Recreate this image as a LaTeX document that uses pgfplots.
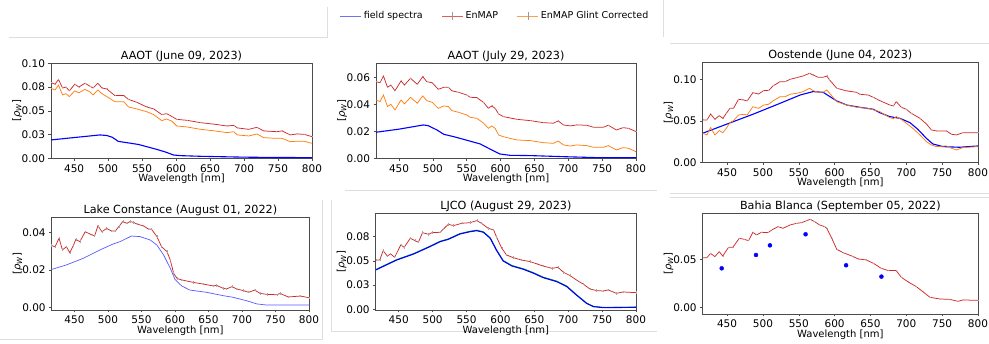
\documentclass[border=0pt]{standalone}
\usepackage{fontspec}
\setmainfont{DejaVu Sans}
\usepackage{pgfplots}
\pgfplotsset{compat=1.18}

\definecolor{enred}{RGB}{214,39,40}
\definecolor{enorange}{RGB}{255,127,14}
\definecolor{fieldblue}{RGB}{0,0,255}
\definecolor{legblue}{RGB}{110,110,255}
\definecolor{fieldgreen}{RGB}{40,170,40}
\definecolor{sepgray}{RGB}{222,222,222}

\pgfplotsset{
  spec/.style={
    scale only axis,
    xmin=416, xmax=800,
    xtick={450,500,...,800},
    scaled y ticks=false,
    tick align=outside,
    major tick length=2.5pt,
    xtick pos=bottom, ytick pos=left,
    axis line style={black!70, line width=0.5pt},
    every tick/.style={black!70, line width=0.5pt},
    tick label style={font=\fontsize{10.5}{12}\selectfont},
    /pgf/number format/assume math mode=true,
    xlabel={Wavelength [nm]},
    ylabel={[\textit{ρ}\textsubscript{\textit{W}}]},
    label style={font=\fontsize{10.5}{12}\selectfont},
    every axis x label/.style={at={(axis description cs:0.5,0)}, anchor=base, yshift=-23.5pt},
    every axis y label/.style={at={(axis description cs:0,0.5)}, xshift=-34pt, rotate=90, anchor=center},
    every axis title/.style={at={(axis description cs:0.5,1)}, anchor=base, yshift=4pt, font=\fontsize{11.2}{13}\selectfont},
  },
  enmap/.style={enred, line width=0.75pt, mark=|, mark size=#1, mark options={gray!70, line width=0.4pt, solid}},
  glint/.style={enorange, line width=0.75pt},
  field/.style={fieldblue, line width=1.1pt},
}

\begin{document}
\begin{tikzpicture}
\useasboundingbox (0pt,0pt) rectangle (989pt,344pt);

% light frames around the panels
\begin{scope}[sepgray, line width=0.8pt]
  \draw (9pt,307pt) -- (327pt,307pt) -- (327pt,337pt);
  \draw (663.5pt,344pt) -- (663.5pt,307pt);
  \draw (670pt,300.7pt) -- (989pt,300.7pt);
  \draw (0pt,4.7pt) -- (322.7pt,4.7pt) -- (322.7pt,144pt);
  \draw (345pt,153.3pt) -- (657pt,153.3pt);
  \draw (331.7pt,144pt) -- (331.7pt,12.3pt) -- (657pt,12.3pt);
  \draw (670pt,150.7pt) -- (989pt,150.7pt);
  \draw (670pt,146.7pt) -- (989pt,146.7pt);
\end{scope}

% ---------------- AAOT, June 09, 2023
\begin{axis}[spec, at={(51pt,185.7pt)}, anchor=south west, width=261pt, height=95pt,
  ymin=0, ymax=0.1, ytick={0,0.025,0.05,0.075,0.1}, yticklabels={0.00,0.03,0.05,0.08,0.10},
  title={AAOT (June 09, 2023)}]
\addplot[field] coordinates {(416,0.0193)(440,0.0211)(465,0.0229)(488,0.0246)(498,0.0240)(506,0.0222)(515,0.0178)(530,0.0162)(545,0.0145)(571,0.0095)(585,0.0065)(596,0.0035)(606,0.0028)(636,0.0021)(700,0.0012)(740,0.0009)(800,0.0007)};
\addplot[glint] coordinates {(416,0.0737)(422,0.072)(427,0.077)(433,0.0667)(438,0.068)(443,0.065)(451,0.071)(457,0.069)(466,0.0726)(473,0.070)(478,0.0667)(485,0.072)(491,0.068)(498,0.065)(510,0.0596)(523,0.0596)(530,0.054)(542,0.052)(557,0.049)(567,0.046)(579,0.0396)(586,0.0414)(594,0.039)(601,0.034)(616,0.033)(636,0.0305)(655,0.029)(675,0.027)(685,0.028)(690,0.0246)(707,0.0235)(719,0.0256)(729,0.0217)(748,0.021)(756,0.021)(768,0.0175)(778,0.018)(788,0.018)(800,0.0158)};
\addplot[enmap=0.5pt] coordinates {(416,0.0796)(422,0.078)(427,0.083)(433,0.074)(438,0.075)(443,0.071)(451,0.078)(457,0.075)(466,0.079)(473,0.076)(478,0.074)(485,0.079)(491,0.074)(498,0.073)(510,0.066)(523,0.066)(530,0.062)(542,0.059)(557,0.054)(567,0.052)(579,0.046)(586,0.047)(594,0.044)(601,0.041)(616,0.040)(636,0.0375)(655,0.036)(675,0.034)(685,0.0347)(690,0.032)(707,0.0305)(719,0.0326)(729,0.0288)(748,0.028)(756,0.0288)(768,0.0246)(778,0.0256)(788,0.0253)(800,0.0228)};
\end{axis}

% ---------------- AAOT, July 29, 2023 (carries the shared legend)
\begin{axis}[spec, at={(376pt,185.7pt)}, anchor=south west, width=260pt, height=95pt,
  ymin=0, ymax=0.0704, ytick={0,0.02,0.04,0.06}, yticklabels={0.00,0.02,0.04,0.06},
  title={AAOT (July 29, 2023)},
  legend columns=3,
  legend image code/.code={\draw[mark repeat=2, mark phase=2, #1] plot coordinates {(0pt,0pt) (10.5pt,0pt) (21pt,0pt)};},
  legend style={at={(axis description cs:0.458,1.498)}, anchor=center, draw=none, fill=none,
    font=\fontsize{9.5}{11}\selectfont, /tikz/every even column/.append style={column sep=17pt}},
  legend cell align=left]
\addlegendimage{legblue, line width=0.9pt}
\addlegendentry{field spectra}
\addlegendimage{enred!75, line width=0.8pt, mark=|, mark size=4pt, mark options={gray!80, line width=0.5pt, solid}}
\addlegendentry{EnMAP}
\addlegendimage{enorange!75, line width=0.8pt, mark=|, mark size=4pt, mark options={gray!80, line width=0.5pt, solid}}
\addlegendentry{EnMAP Glint Corrected}
\addplot[field, forget plot] coordinates {(416,0.0193)(450,0.0216)(486,0.0247)(493,0.0242)(506,0.021)(516,0.0178)(531,0.016)(545,0.0141)(570,0.0106)(585,0.0067)(599,0.0032)(614,0.0022)(644,0.002)(693,0.0012)(742,0.0005)(800,0.0005)};
\addplot[glint, forget plot] coordinates {(416,0.0432)(422,0.042)(427,0.0469)(433,0.0383)(438,0.040)(444,0.0358)(453,0.0432)(458,0.0403)(467,0.0452)(477,0.0408)(485,0.0462)(491,0.0427)(499,0.0415)(508,0.037)(516,0.0388)(523,0.0383)(528,0.0353)(538,0.0341)(550,0.0321)(555,0.0304)(565,0.0296)(575,0.026)(582,0.0222)(587,0.024)(592,0.0222)(597,0.0173)(604,0.016)(624,0.0136)(644,0.0131)(663,0.0116)(678,0.0111)(685,0.0128)(693,0.0099)(703,0.0091)(712,0.0099)(727,0.0094)(737,0.0082)(752,0.0082)(759,0.0094)(771,0.0062)(781,0.0079)(789,0.0074)(800,0.0049)};
\addplot[enmap=0.5pt, forget plot] coordinates {(416,0.0568)(422,0.056)(427,0.061)(433,0.0526)(438,0.0543)(444,0.050)(453,0.0573)(458,0.0543)(467,0.0593)(477,0.0548)(485,0.0605)(491,0.0568)(499,0.056)(508,0.0511)(516,0.0526)(523,0.0526)(528,0.050)(538,0.0489)(550,0.0469)(555,0.0452)(565,0.045)(575,0.0413)(582,0.037)(587,0.0388)(592,0.037)(597,0.0329)(604,0.0309)(624,0.0289)(644,0.0279)(663,0.0264)(678,0.026)(685,0.0277)(693,0.0247)(703,0.024)(712,0.0247)(727,0.0245)(737,0.023)(752,0.023)(759,0.0245)(771,0.021)(781,0.0227)(789,0.0222)(800,0.0198)};
\end{axis}

% ---------------- Oostende, June 04, 2023
\begin{axis}[spec, at={(702.7pt,181.7pt)}, anchor=south west, width=275.3pt, height=100pt,
  ymin=0, ymax=0.1205, ytick={0,0.05,0.1}, yticklabels={0.00,0.05,0.10},
  title={Oostende (June 04, 2023)}]
\addplot[field] coordinates {(416,0.035)(449,0.0458)(487,0.0582)(524,0.0711)(552,0.0811)(570,0.0852)(584,0.0843)(603,0.0739)(617,0.069)(635,0.0663)(654,0.0639)(663,0.0598)(677,0.055)(691,0.053)(705,0.0478)(716,0.0398)(728,0.0289)(737,0.0221)(751,0.0189)(774,0.0181)(800,0.0197)};
\addplot[glint] coordinates {(416,0.035)(422,0.033)(427,0.0418)(433,0.033)(439,0.0382)(444,0.0357)(449,0.041)(454,0.0478)(459,0.0502)(466,0.057)(473,0.0578)(478,0.057)(486,0.067)(494,0.065)(501,0.069)(508,0.0699)(514,0.0739)(524,0.0791)(531,0.0791)(538,0.082)(547,0.0831)(556,0.0851)(565,0.0892)(570,0.0864)(577,0.0843)(584,0.0843)(589,0.0872)(593,0.0831)(603,0.0731)(617,0.069)(631,0.0663)(647,0.065)(663,0.061)(677,0.0538)(682,0.0526)(686,0.055)(693,0.0518)(700,0.047)(709,0.041)(719,0.033)(728,0.0249)(735,0.0209)(742,0.0189)(756,0.0197)(763,0.0169)(770,0.0149)(779,0.0177)(800,0.0189)};
\addplot[enmap=0.5pt] coordinates {(416,0.051)(422,0.051)(427,0.0582)(433,0.0518)(439,0.0562)(444,0.053)(449,0.059)(454,0.0651)(459,0.0651)(466,0.0759)(473,0.0751)(478,0.0739)(486,0.0839)(494,0.0823)(501,0.0864)(508,0.0864)(514,0.092)(524,0.0972)(531,0.0972)(538,0.100)(547,0.102)(556,0.104)(565,0.1072)(570,0.1052)(577,0.1024)(584,0.1024)(589,0.104)(593,0.0992)(603,0.0892)(617,0.086)(631,0.0843)(635,0.082)(647,0.081)(654,0.0783)(663,0.0743)(677,0.069)(682,0.0679)(686,0.0731)(693,0.0663)(700,0.0639)(707,0.059)(719,0.053)(728,0.0462)(735,0.039)(742,0.0378)(756,0.0378)(763,0.0337)(770,0.033)(779,0.0357)(800,0.0357)};
\end{axis}

% ---------------- Lake Constance, August 01, 2022
\begin{axis}[spec, at={(51.7pt,34pt)}, anchor=south west, width=257.3pt, height=92.7pt,
  ymin=-0.00124, ymax=0.0482, ytick={0,0.02,0.04}, yticklabels={0.00,0.02,0.04},
  title={Lake Constance (August 01, 2022)}]
\addplot[fieldblue!65, line width=0.7pt] coordinates {(416,0.0204)(438,0.0228)(463,0.0263)(488,0.0308)(508,0.034)(518,0.0352)(535,0.0382)(548,0.0379)(563,0.0361)(573,0.0334)(583,0.0281)(593,0.021)(600,0.0151)(610,0.0116)(622,0.0094)(647,0.0082)(672,0.0064)(687,0.0055)(707,0.0037)(722,0.002)(737,0.0014)(800,0.0014)};
\addplot[enmap=1.2pt] coordinates {(416,0.0331)(421,0.0325)(427,0.037)(432,0.0308)(438,0.0325)(443,0.0293)(448,0.0329)(452,0.0364)(458,0.0352)(466,0.0405)(476,0.0388)(480,0.0382)(485,0.0437)(491,0.0405)(498,0.0423)(505,0.0409)(511,0.0409)(516,0.0432)(522,0.0459)(528,0.045)(533,0.0459)(538,0.0455)(543,0.0446)(553,0.0436)(560,0.042)(565,0.0418)(573,0.0379)(580,0.0325)(588,0.0299)(593,0.0254)(598,0.0183)(603,0.0156)(610,0.0148)(627,0.0135)(642,0.0126)(657,0.0116)(662,0.0119)(672,0.0103)(677,0.010)(685,0.0112)(692,0.010)(702,0.0091)(710,0.0082)(719,0.0094)(727,0.0076)(737,0.0071)(752,0.0069)(757,0.0076)(769,0.0057)(787,0.0062)(800,0.0053)};
\end{axis}

% ---------------- LJCO, August 29, 2023
\begin{axis}[spec, at={(375.7pt,34pt)}, anchor=south west, width=260.3pt, height=96.7pt,
  ymin=-0.0007, ymax=0.0991, ytick={0,0.025,0.05,0.075}, yticklabels={0.00,0.03,0.05,0.08},
  title={LJCO (August 29, 2023)}]
\addplot[fieldgreen, line width=1pt] coordinates {(416,0.0410)(447,0.0513)(472,0.0575)(496,0.0651)(511,0.0702)(523,0.0726)(540,0.0781)(555,0.0805)(565,0.0816)(575,0.0799)(585,0.0737)(594,0.0616)(604,0.0504)(617,0.0452)(634,0.0418)(649,0.0377)(663,0.0332)(683,0.0291)(698,0.0239)(712,0.0152)(727,0.0065)(737,0.0031)(752,0.0019)(800,0.0022)};
\addplot[field] coordinates {(416,0.0406)(447,0.0509)(472,0.0571)(496,0.0647)(511,0.0698)(523,0.0722)(540,0.0777)(555,0.0801)(565,0.0812)(575,0.0795)(585,0.0733)(594,0.0612)(604,0.0499)(617,0.0447)(634,0.0413)(649,0.0372)(663,0.0327)(683,0.0286)(698,0.0234)(712,0.0148)(727,0.0062)(737,0.0028)(752,0.0017)(800,0.0021)};
\addplot[enmap=1.2pt] coordinates {(416,0.0509)(422,0.0509)(427,0.0605)(433,0.055)(438,0.0571)(444,0.0537)(453,0.0664)(458,0.064)(467,0.0733)(474,0.0709)(479,0.0692)(485,0.0791)(494,0.0774)(499,0.0791)(511,0.0795)(516,0.0829)(523,0.0877)(531,0.0864)(543,0.0888)(555,0.0894)(565,0.0915)(572,0.0888)(582,0.0836)(590,0.0819)(594,0.075)(602,0.063)(609,0.0561)(619,0.0533)(631,0.0509)(644,0.0492)(654,0.0468)(663,0.0447)(676,0.0423)(685,0.0433)(693,0.0382)(703,0.0347)(712,0.0303)(722,0.0261)(732,0.021)(742,0.0193)(752,0.0189)(759,0.020)(771,0.0165)(781,0.0179)(800,0.0172)};
\end{axis}

% ---------------- Bahia Blanca, September 05, 2022
\begin{axis}[spec, at={(702.7pt,30pt)}, anchor=south west, width=275.3pt, height=100.7pt,
  ymin=-0.007, ymax=0.0986, ytick={0,0.05}, yticklabels={0.00,0.05},
  title={Bahia Blanca (September 05, 2022)}]
\addplot[enmap=0.5pt] coordinates {(416,0.0521)(422,0.0521)(427,0.0566)(433,0.0531)(439,0.0584)(444,0.0538)(452,0.0629)(458,0.0629)(467,0.0724)(474,0.0713)(480,0.0699)(486,0.0787)(491,0.0759)(498,0.0787)(507,0.0783)(514,0.0818)(521,0.0846)(528,0.0829)(538,0.0864)(547,0.0881)(554,0.0888)(561,0.0909)(566,0.0923)(572,0.0899)(579,0.0864)(586,0.0846)(589,0.0829)(596,0.0724)(603,0.0608)(612,0.0573)(624,0.0538)(633,0.0507)(644,0.0497)(654,0.0462)(665,0.0409)(675,0.0385)(686,0.0385)(693,0.0315)(702,0.0269)(714,0.0217)(723,0.0164)(733,0.0105)(747,0.0087)(760,0.0084)(772,0.0063)(779,0.0077)(800,0.0073)};
\addplot[only marks, mark=*, mark size=2pt, fieldblue] coordinates {(442.5,0.0409)(490.3,0.0549)(509.8,0.065)(559.5,0.0766)(616,0.0441)(665.3,0.0322)};
\end{axis}
\end{tikzpicture}
\end{document}
